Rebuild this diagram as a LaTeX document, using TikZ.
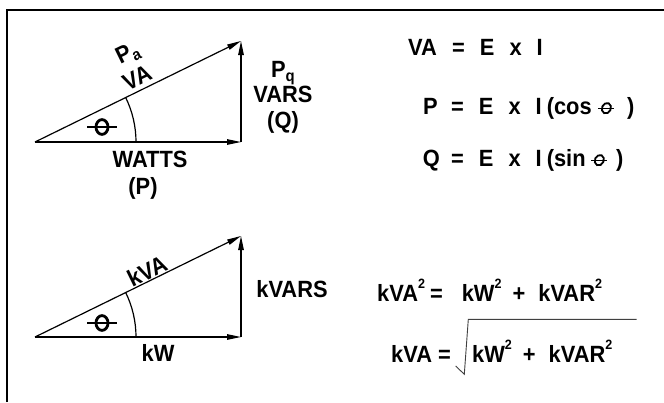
\documentclass[tikz,border=0pt]{standalone}
\usepackage{fontspec}
\setmainfont{Liberation Sans}[FakeStretch=0.93]
\usetikzlibrary{arrows.meta,positioning,calc}

\newcommand\sqmark{\raisebox{12.5pt}{\fontsize{13.5}{13.5}\selectfont 2}}
\newcommand\subtxt[1]{\raisebox{-4pt}{\fontsize{16}{16}\selectfont #1}}
\newcommand\eqgap{\hspace{15pt}}
% angle mark: ring crossed by a bar
\newcommand\bigphase{\tikz[x=1pt,y=1pt]{\draw[line width=2.8pt] (0,0) ellipse [x radius=6, y radius=7.4]; \draw[line width=2pt] (-15,0) -- (15,0);}}
\newcommand\smallphase{\tikz[x=1pt,y=1pt]{\draw[line width=1.8pt,rotate=-25] (0,0) ellipse [x radius=4.4, y radius=5.4]; \draw[line width=1.4pt] (-8,0) -- (8,0);}}

\tikzset{
  vecline/.style={line width=1.2pt,-{Triangle[length=14pt,width=5.5pt]}},
  anglearc/.style={line width=1.2pt},
  framerule/.style={line width=1.8pt},
  radical/.style={line width=0.9pt,color=black!75},
  lbl/.style={font=\bfseries\fontsize{23.5}{25.5}\selectfont,inner sep=0pt,align=center},
  eqtext/.style={lbl,anchor=base west}
}

\begin{document}
\begin{tikzpicture}[x=1pt,y=-1pt]
  \useasboundingbox (0,0) rectangle (664,402);
  \draw[framerule] (7,402) |- (664,10);

  % upper triangle
  \coordinate (o1) at (35,142);
  \coordinate (w1) at (241,142);
  \coordinate (q1) at (241,41);
  \draw[vecline] (o1) -- (w1);
  \draw[vecline] (w1) -- (q1);
  \draw[vecline] (o1) -- (q1);
  \draw[anglearc] ([xshift=101pt]o1) arc (0:-26.1:101);
  \node[lbl] (th1) at (102,127) {\bigphase};
  \node[lbl,rotate=26] (pa1) at (128,54) {P\subtxt{a}};
  \node[lbl,rotate=26] (va1) at (137,78) {VA};
  \node[lbl] (pq1) at (283,97) {P\subtxt{q}\\VARS\\(Q)};
  \node[lbl,anchor=base] (watts) at (150,167) {WATTS};
  \node[lbl,anchor=base] (pwr) at (143,194) {(P)};

  % lower triangle
  \coordinate (o2) at (35,337);
  \coordinate (w2) at (241,337);
  \coordinate (q2) at (241,236);
  \draw[vecline] (o2) -- (w2);
  \draw[vecline] (w2) -- (q2);
  \draw[vecline] (o2) -- (q2);
  \draw[anglearc] ([xshift=101pt]o2) arc (0:-26.1:101);
  \node[lbl] (th2) at (102,323) {\bigphase};
  \node[lbl,rotate=26] (kva) at (147,271) {kVA};
  \node[lbl,anchor=base] (kvars) at (292,297) {kVARS};
  \node[lbl,anchor=base] (kw) at (158,361) {kW};

  % formulas
  \node[lbl,anchor=base east] (lva) at (437,55) {VA};
  \node[right=15pt of lva.base east,eqtext] (rva) {=\eqgap E\eqgap x\eqgap I};
  \node[lbl,anchor=base east] (lp) at (438,114) {P};
  \node[right=13pt of lp.base east,eqtext] (rp) {=\eqgap E\eqgap x\eqgap I\hspace{5pt}(cos\hspace{6pt}\smallphase\hspace{12pt})};
  \node[lbl,anchor=base east] (lq) at (440,166) {Q};
  \node[right=11pt of lq.base east,eqtext] (rq) {=\eqgap E\eqgap x\eqgap I\hspace{5pt}(sin\hspace{5pt}\smallphase\hspace{8pt})};
  \node[eqtext] (ksq) at (377,301) {kVA\sqmark\hspace{5pt}=\hspace{19pt}kW\sqmark\hspace{11pt}+\hspace{13pt}kVAR\sqmark};
  \node[lbl,anchor=base east] (lkva) at (451,362) {kVA\hspace{6pt}=};
  \node[eqtext] (rkva) at (472,362) {kW\sqmark\hspace{11pt}+\hspace{13pt}kVAR\sqmark};
  \draw[radical] (455.7,366) -- (464.3,374.3) -- (468.3,319.3) -- (636.7,319.3);
\end{tikzpicture}
\end{document}
